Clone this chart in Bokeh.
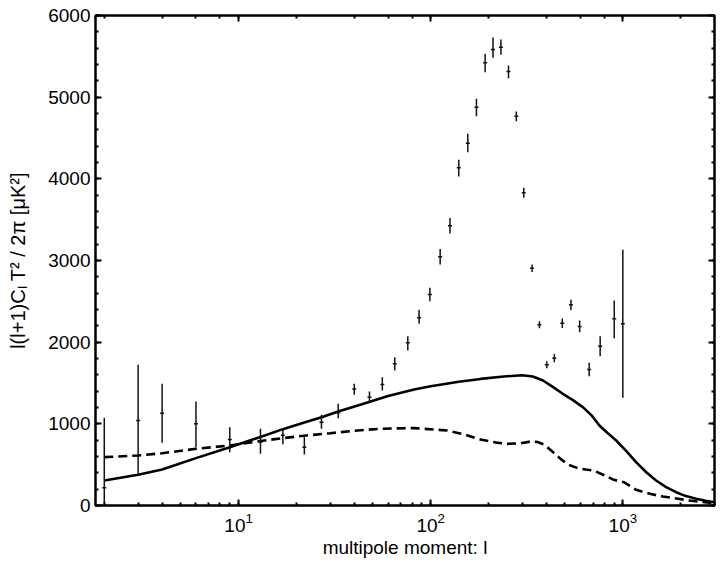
import numpy as np
from bokeh.plotting import figure
from bokeh.models import (LogAxis, LinearAxis, SingleIntervalTicker, LogTicker,
                          CustomJSTickFormatter, ColumnDataSource)
from bokeh.embed import file_html
from bokeh.resources import INLINE

# ---- data ----
ell = [2, 3, 4, 6, 9, 13, 17, 22, 27, 33, 40, 48, 56, 65, 76, 87, 99, 112, 126, 140,
       156, 173, 192, 211, 232, 254, 279, 305, 337, 368, 402, 440, 484, 537, 596, 668,
       762, 902, 1000]
cl = [217, 1041, 1130, 1000, 808, 775, 860, 714, 1020, 1135, 1428, 1326, 1482, 1735,
      1992, 2298, 2584, 3045, 3425, 4135, 4436, 4877, 5420, 5583, 5612, 5314, 4767,
      3829, 2906, 2212, 1723, 1804, 2233, 2457, 2192, 1665, 1951, 2286, 2225]
cl_lo = [0, 388, 768, 714, 653, 633, 750, 624, 939, 1069, 1355, 1265, 1408, 1653,
         1898, 2225, 2502, 2950, 3330, 4028, 4326, 4767, 5306, 5482, 5518, 5232, 4706,
         3768, 2860, 2170, 1680, 1755, 2175, 2395, 2120, 1583, 1828, 2049, 1319]
cl_hi = [1074, 1723, 1490, 1273, 959, 939, 950, 837, 1110, 1245, 1490, 1396, 1571, 1816,
         2073, 2396, 2666, 3140, 3520, 4233, 4551, 4980, 5531, 5730, 5706, 5388, 4824,
         3890, 2950, 2255, 1765, 1855, 2290, 2520, 2265, 1747, 2073, 2510, 3131]

solid_l = [2, 3, 4, 6, 9, 13, 17, 22, 27, 33, 43, 60, 82, 100, 140, 182, 240, 300, 340,
           384, 430, 487, 550, 619, 690, 755, 830, 923, 1040, 1172, 1320, 1489, 1680,
           1893, 2130, 2405, 2700, 3000]
solid_v = [306, 376, 440, 580, 714, 840, 935, 1015, 1080, 1150, 1235, 1340, 1420, 1460,
           1515, 1550, 1580, 1595, 1580, 1531, 1455, 1368, 1290, 1204, 1100, 980, 890,
           796, 670, 531, 410, 306, 225, 163, 115, 82, 58, 40]

dash_l = [2, 3, 4, 6, 9, 13, 17, 22, 30, 40, 55, 82, 122, 150, 182, 220, 250, 290, 331,
          360, 388, 430, 474, 520, 578, 640, 706, 800, 898, 1012, 1172, 1400, 1614, 1900,
          2222, 2600, 3000]
dash_v = [592, 612, 640, 694, 735, 790, 825, 855, 885, 915, 940, 948, 918, 870, 808, 770,
          755, 760, 784, 778, 747, 660, 571, 500, 461, 440, 428, 370, 314, 286, 192, 140,
          110, 85, 61, 42, 29]

x_label = "multipole moment: l"
y_label = "l(l+1)C\u2097 T\u00b2 / 2\u03c0 [\u03bcK\u00b2]"

FONT = "Liberation Sans"

p = figure(width=720, height=561, x_axis_type="log", x_range=(1.8, 3000), y_range=(0, 6000),
           output_backend="svg", toolbar_location=None,
           min_border_left=95, min_border_right=6, min_border_top=15, min_border_bottom=56)
p.grid.visible = False
p.outline_line_color = "black"
p.outline_line_width = 2.5
p.outline_line_alpha = 1.0
p.background_fill_color = "white"
p.border_fill_color = "white"


def style(ax):
    ax.axis_line_color = None
    ax.major_tick_in = 6
    ax.major_tick_out = 0
    ax.minor_tick_in = 3
    ax.minor_tick_out = 0
    ax.major_tick_line_width = 2
    ax.minor_tick_line_width = 2
    ax.major_tick_line_color = "black"
    ax.minor_tick_line_color = "black"
    ax.major_label_text_font = FONT
    ax.major_label_text_font_size = "19px"
    ax.major_label_text_color = "black"
    ax.axis_label_text_font = FONT
    ax.axis_label_text_font_style = "normal"
    ax.axis_label_text_color = "black"


xa = p.xaxis[0]
style(xa)
xa.major_label_standoff = 7
xa.axis_label = x_label
xa.axis_label_text_font_size = "19px"
xa.axis_label_standoff = 2

ya = p.yaxis[0]
ya.ticker = SingleIntervalTicker(interval=1000, num_minor_ticks=5)
style(ya)
ya.major_label_standoff = 5
ya.axis_label = y_label
ya.axis_label_text_font_size = "20px"
ya.axis_label_standoff = 16

top = LogAxis(ticker=LogTicker(), formatter=CustomJSTickFormatter(code="return ''"),
              major_label_standoff=0)
style(top)
p.add_layout(top, "above")
right = LinearAxis(ticker=SingleIntervalTicker(interval=1000, num_minor_ticks=5),
                   formatter=CustomJSTickFormatter(code="return ''"), major_label_standoff=0)
style(right)
p.add_layout(right, "right")

# curves
p.line(solid_l, solid_v, line_color="black", line_width=2.6)
p.line(dash_l, dash_v, line_color="black", line_width=2.6, line_dash="9 5")

# data points with error bars
src = ColumnDataSource(dict(l=ell, c=cl, lo=cl_lo, hi=cl_hi))
p.segment(x0="l", y0="lo", x1="l", y1="hi", source=src, line_color="#111111", line_width=1.5)
p.scatter(x="l", y="c", source=src, marker="dash", size=4, line_color="#111111", line_width=1.5)

open("out.html", "w").write(file_html(p, INLINE))
